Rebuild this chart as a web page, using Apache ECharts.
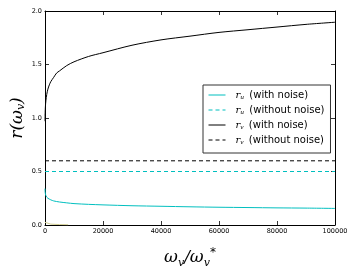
<!DOCTYPE html>
<html><head><meta charset="utf-8">
<script src="https://cdn.jsdelivr.net/npm/echarts@6/dist/echarts.min.js"></script>
<style>html,body{margin:0;padding:0;background:#fff}#c{width:357px;height:269px}</style>
</head><body><div id="c"></div>
<script>
const xTicks = [0, 20000, 40000, 60000, 80000, 100000];
const yTicks = [0.0, 0.5, 1.0, 1.5, 2.0];
const rvNoiseX = [0, 50, 150, 300, 600, 1000, 1500, 2000, 3000, 4000, 5000, 7500, 10000, 15000, 20000, 30000, 40000, 50000, 60000, 70000, 80000, 90000, 100000];
const rvNoiseY = [0.97, 1.05, 1.11, 1.16, 1.22, 1.27, 1.31, 1.34, 1.38, 1.42, 1.44, 1.49, 1.525, 1.575, 1.61, 1.68, 1.73, 1.765, 1.80, 1.825, 1.85, 1.875, 1.895];
const ruNoiseX = [0, 50, 150, 300, 600, 1000, 2000, 3000, 5000, 7500, 10000, 15000, 20000, 30000, 40000, 50000, 60000, 70000, 80000, 90000, 100000];
const ruNoiseY = [0.34, 0.31, 0.29, 0.275, 0.26, 0.25, 0.235, 0.225, 0.215, 0.207, 0.20, 0.193, 0.188, 0.18, 0.175, 0.17, 0.166, 0.163, 0.16, 0.158, 0.155];
const ruCleanX = [0, 100000];
const ruCleanY = [0.5, 0.5];
const rvCleanX = [0, 100000];
const rvCleanY = [0.6, 0.6];
const faintX = [0, 500, 2000, 5000, 8000];
const faintY = [0.025, 0.015, 0.008, 0.004, 0.002];

const zip = (a, b) => a.map((v, i) => [v, b[i]]);
const labels = {
  ruN: '{m|r}{s|u} (with noise)',
  ruC: '{m|r}{s|u} (without noise)',
  rvN: '{m|r}{s|v} (with noise)',
  rvC: '{m|r}{s|v} (without noise)'
};
const CYAN = '#00bfbf';
const chart = echarts.init(document.getElementById('c'));
const tickCommon = {show: true, inside: true, length: 4, lineStyle: {color: '#000', width: 0.8}};
chart.setOption({
  animation: false,
  grid: {left: 45, right: 22, top: 11, bottom: 44, show: false, containLabel: false, outerBoundsMode: 'none'},
  xAxis: [{
    type: 'value', min: 0, max: 100000, interval: 20000,
    axisLine: {show: true, onZero: false, lineStyle: {color: '#000', width: 1}},
    axisTick: tickCommon,
    splitLine: {show: false},
    axisLabel: {fontSize: 6.5, color: '#000', fontFamily: 'DejaVu Sans', margin: 3, formatter: v => String(v)},
    name: '{w|ω}{s|v}{w|/ω}{s|v}{u|*}',
    nameLocation: 'middle', nameGap: 22,
    nameTextStyle: {rich: {
      w: {fontFamily: 'DejaVu Serif', fontStyle: 'italic', fontSize: 17, color: '#000'},
      s: {fontFamily: 'DejaVu Serif', fontStyle: 'italic', fontSize: 11, color: '#000', verticalAlign: 'bottom', padding: [8, 0, 0, 0]},
      u: {fontFamily: 'DejaVu Sans', fontSize: 12, color: '#000', verticalAlign: 'top', padding: [0, 0, 10, 0]}
    }}
  }, {
    type: 'value', position: 'top', min: 0, max: 100000, interval: 20000,
    axisLine: {show: true, onZero: false, lineStyle: {color: '#000', width: 1}},
    axisTick: tickCommon, axisLabel: {show: false}, splitLine: {show: false}
  }],
  yAxis: [{
    type: 'value', min: 0, max: 2, interval: 0.5,
    axisLine: {show: true, onZero: false, lineStyle: {color: '#000', width: 1}},
    axisTick: tickCommon,
    splitLine: {show: false},
    axisLabel: {fontSize: 6.5, color: '#000', fontFamily: 'DejaVu Sans', margin: 3, formatter: v => v.toFixed(1)},
    name: '{w|r(ω}{s|v}{w|)}',
    nameLocation: 'middle', nameGap: 18, nameRotate: 90, nameMoveOverlap: false,
    nameTextStyle: {rich: {
      w: {fontFamily: 'DejaVu Serif', fontStyle: 'italic', fontSize: 17, color: '#000'},
      s: {fontFamily: 'DejaVu Serif', fontStyle: 'italic', fontSize: 11, color: '#000', verticalAlign: 'bottom', padding: [8, 0, 0, 0]}
    }}
  }, {
    type: 'value', position: 'right', min: 0, max: 2, interval: 0.5,
    axisLine: {show: true, onZero: false, lineStyle: {color: '#000', width: 1}},
    axisTick: tickCommon, axisLabel: {show: false}, splitLine: {show: false}
  }],
  legend: {
    orient: 'vertical', left: 203, top: 85,
    padding: [5, 6, 8, 5],
    backgroundColor: '#fff', borderColor: '#333', borderWidth: 1, borderRadius: 0,
    itemWidth: 17, itemHeight: 6, itemGap: 5,
    itemStyle: {opacity: 0},
    lineStyle: {width: 1},
    data: ['ruN', 'ruC', 'rvN', 'rvC'],
    formatter: n => labels[n],
    textStyle: {rich: {
      m: {fontFamily: 'DejaVu Serif', fontStyle: 'italic', fontSize: 10, color: '#000', padding: [0, 0, 0, 5]},
      s: {fontFamily: 'DejaVu Serif', fontStyle: 'italic', fontSize: 6, color: '#000', verticalAlign: 'bottom', padding: [4, 2, 0, 0]}
    }, fontFamily: 'DejaVu Sans', fontSize: 10, color: '#000'}
  },
  series: [
    {name: 'faint', type: 'line', data: zip(faintX, faintY), showSymbol: false, symbol: 'none',
     lineStyle: {color: '#d0cc90', width: 1}, silent: true},
    {name: 'ruN', type: 'line', data: zip(ruNoiseX, ruNoiseY), symbol: 'none', smooth: 0.3,
     lineStyle: {color: CYAN, width: 1}, itemStyle: {color: CYAN}},
    {name: 'ruC', type: 'line', data: zip(ruCleanX, ruCleanY), symbol: 'none',
     lineStyle: {color: CYAN, width: 1.2, type: [4, 3]}, itemStyle: {color: CYAN}},
    {name: 'rvN', type: 'line', data: zip(rvNoiseX, rvNoiseY), symbol: 'none', smooth: 0.3,
     lineStyle: {color: '#000', width: 1}, itemStyle: {color: '#000'}},
    {name: 'rvC', type: 'line', data: zip(rvCleanX, rvCleanY), symbol: 'none',
     lineStyle: {color: '#000', width: 1, type: [4, 3]}, itemStyle: {color: '#000'}}
  ]
});
</script></body></html>
